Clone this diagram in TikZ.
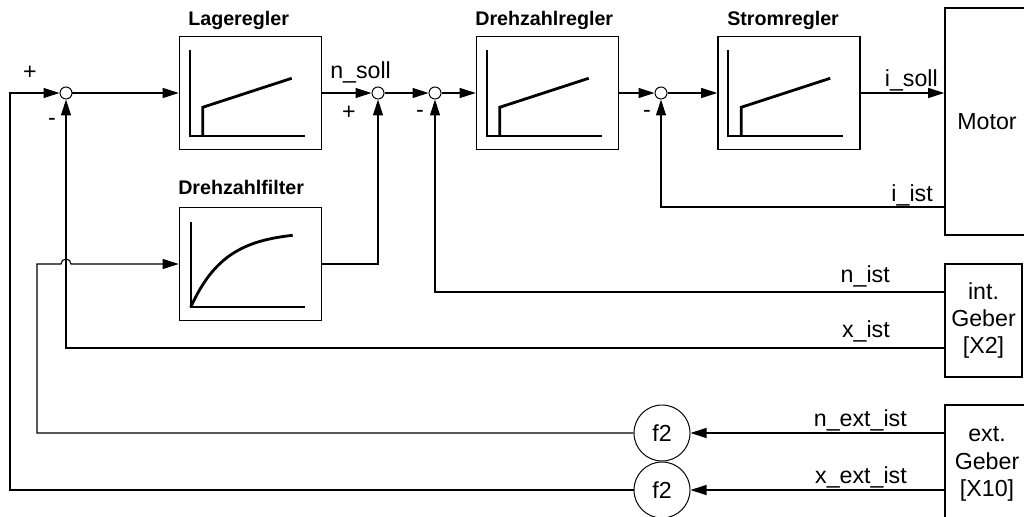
\documentclass[tikz,border=0pt]{standalone}
\usepackage{fontspec}
\setmainfont{Liberation Sans}
\usetikzlibrary{arrows.meta, calc, positioning}

\begin{document}
\begin{tikzpicture}[x=0.025cm, y=-0.025cm,
    >={Triangle[length=0.4cm, width=0.25cm]},
    block/.style={draw, line width=1.1pt, minimum width=3.55cm, minimum height=2.825cm, inner sep=0pt},
    sum/.style={draw, circle, fill=white, minimum size=0.3cm, inner sep=0pt, line width=0.7pt},
    func/.style={draw, circle, minimum size=1.4cm, inner sep=0pt, line width=0.7pt, font=\fontsize{16.5}{19.5}\selectfont},
    dev/.style={draw, line width=1.1pt, inner sep=0pt, align=center, font=\fontsize{16.5}{19.5}\selectfont},
    sig/.style={->, line width=0.8pt},
    lbl/.style={inner sep=0pt, font=\fontsize{16.5}{19.5}\selectfont},
    title/.style={inner sep=0pt, anchor=base west, font=\fontsize{14}{16}\selectfont\bfseries}]
    \useasboundingbox (0,0) rectangle (1024,517);
    \clip (0,0) rectangle (1024,517);

    % 1. Regler und Summenpunkte
    \node[sum] (j1) at (66,93) {};
    \node[block] (lage) at (250.5,93) {};
    \node[sum] (j2) at (378,93) {};
    \node[sum] (j3) at (435,93) {};
    \node[block] (dreh) at (547.5,93) {};
    \node[sum] (j4) at (661,93) {};
    \node[block] (strom) at (789,93) {};
    \node[block] (filt) at (250.5,264) {};

    \node[title] (tlage) at (188,26) {Lageregler};
    \node[title] (tdreh) at (475,26) {Drehzahlregler};
    \node[title] (tstrom) at (727,26) {Stromregler};
    \node[title] (tfilt) at (178,195) {Drehzahlfilter};

    % 2. Motor und Geber
    \node[dev, minimum width=2.1cm, minimum height=5.675cm] (motor) at (987,121.5) {Motor};
    \node[dev, minimum width=1.925cm, minimum height=2.825cm] (geb) at (983.5,320.5) {int.\\Geber\\{[X2]}};
    \node[dev, minimum width=2.1cm, minimum height=2.95cm] (ext) at (987,464) {ext.\\Geber\\{[X10]}};
    \node[func] (f2a) at (662,433) {f2};
    \node[func] (f2b) at (662,490) {f2};

    % 3. Kennlinien in den Bloecken
    \foreach \b in {lage, dreh, strom} {
        \begin{scope}[shift={(\b.south west)}]
            \draw[line width=1.3pt] (11,-100) -- (11,-14) -- (126,-14);
            \draw[line width=2pt] (24,-14) -- (24,-43) -- (113,-72);
        \end{scope}
    }
    \begin{scope}[shift={(filt.south west)}]
        \draw[line width=1.3pt] (12,-99) -- (12,-14) -- (126,-14);
        \draw[line width=2pt, domain=0:1, samples=40]
            plot ({12+102*\x}, {-14-72*(1-exp(-3*\x))/(1-exp(-3))});
    \end{scope}

    % 4. Signalfluss
    \draw[sig] (j1) -- (lage);
    \draw[sig] (lage) -- (j2);
    \draw[sig] (j2) -- (j3);
    \draw[sig] (j3) -- (dreh);
    \draw[sig] (dreh) -- (j4);
    \draw[sig] (j4) -- (strom);
    \draw[sig] (strom.east) -- (strom.east -| motor.west);
    \draw[sig] (filt.east) -| (j2);

    % 5. Rueckfuehrungen
    \draw[sig] (motor.west |- 0,207) -| (j4);
    \draw[sig] (geb.west |- 0,292) -| (j3);
    \draw[sig] (geb.west |- 0,348) -| (j1);
    \draw[sig] (ext.west |- f2a) -- (f2a);
    \draw[sig] (ext.west |- f2b) -- (f2b);
    \draw[sig] (f2a.west) -- (37,433) -- (37,264)
        -- ($(j1 |- filt.west)+(-5,0)$) arc[start angle=180, end angle=360, radius=5]
        -- (filt.west);
    \draw[sig] (f2b.west) -- (10,490) |- (j1);

    % 6. Beschriftungen
    \node[lbl] (p1) at (30,73) {+};
    \node[lbl] (m1) at (52,122) {-};
    \node[lbl] (p2) at (349,113) {+};
    \node[lbl] (m3) at (420,114) {-};
    \node[lbl] (m4) at (647,114) {-};
    \node[lbl, anchor=base west] (nsoll) at (330,79) {n\_soll};
    \node[lbl, anchor=base east] (isoll) at (938,87) {i\_soll};
    \node[lbl, anchor=base east] (iist) at (933,202) {i\_ist};
    \node[lbl, anchor=base east] (nist) at (890,283) {n\_ist};
    \node[lbl, anchor=base east] (xist) at (890,338) {x\_ist};
    \node[lbl, anchor=base east] (next) at (907,426) {n\_ext\_ist};
    \node[lbl, anchor=base east] (xext) at (907,483) {x\_ext\_ist};
\end{tikzpicture}
\end{document}
